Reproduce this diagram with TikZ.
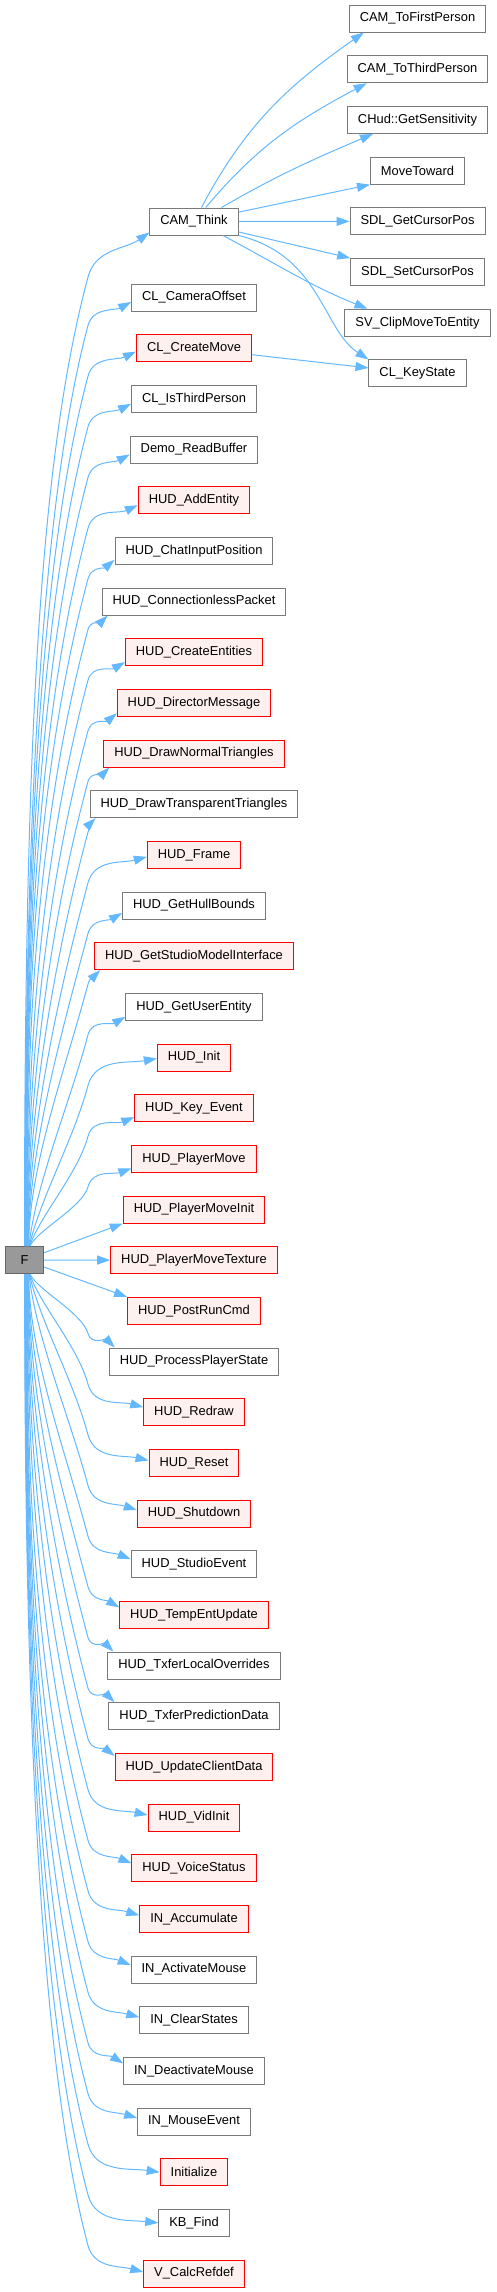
\documentclass[tikz,border=0pt]{standalone}
\usepackage{fontspec}
\setmainfont{Liberation Sans}
\usetikzlibrary{arrows.meta}
\definecolor{edgeblue}{HTML}{63B8FF}
\definecolor{boxgray}{HTML}{7A7A7A}
\definecolor{fgray}{HTML}{999999}
\definecolor{fborder}{HTML}{666666}
\definecolor{redfill}{HTML}{FFF0F0}
\tikzset{
  fn/.style={draw=boxgray,fill=white,line width=1pt,minimum height=27pt,
    inner xsep=10.5pt,inner ysep=0pt,font=\fontsize{12.9}{15}\selectfont},
  nplain/.style={},
  ntrunc/.style={draw=red,fill=redfill},
  edge/.style={draw=edgeblue,line width=1pt,-{Triangle[length=13pt,width=9pt]}}
}
\begin{document}
\begin{tikzpicture}[x=1pt,y=1pt]
\useasboundingbox (0,0) rectangle (496,-2292);
\node[fn,fill=fgray,draw=fborder,minimum width=38pt] (F) at (24.5,-1260) {F};
\node[fn,nplain] (think) at (194,-221.5) {CAM\_Think};
% functions called by CAM_Think
\foreach \nm/\lbl [count=\j from 0] in {tofirst/CAM\_ToFirstPerson,tothird/CAM\_ToThirdPerson,
  getsens/CHud::GetSensitivity,movetow/MoveToward,getcur/SDL\_GetCursorPos,
  setcur/SDL\_SetCursorPos,clipmove/SV\_ClipMoveToEntity,keystate/CL\_KeyState}
  \node[fn,nplain] (\nm) at (417.5,-18.5-\j*50.71) {\lbl};
% functions called by F
\foreach \lbl/\kind/\off/\bt [count=\i] in {
  CL\_CameraOffset/nplain/4.5/28, CL\_CreateMove/ntrunc/3.5/25,
  CL\_IsThirdPerson/nplain/5/27, Demo\_ReadBuffer/nplain/5/28,
  HUD\_AddEntity/ntrunc/5/25, HUD\_ChatInputPosition/nplain/9/40,
  HUD\_ConnectionlessPacket/nplain/-1/45, HUD\_CreateEntities/ntrunc/10/30,
  HUD\_DirectorMessage/ntrunc/10.5/40, HUD\_DrawNormalTriangles/ntrunc/-1/45,
  HUD\_DrawTransparentTriangles/nplain/-1/45, HUD\_Frame/ntrunc/2/15,
  HUD\_GetHullBounds/nplain/7.5/30, HUD\_GetStudioModelInterface/ntrunc/-1/45,
  HUD\_GetUserEntity/nplain/10/30, HUD\_Init/ntrunc/1/10,
  HUD\_Key\_Event/ntrunc/9/22, HUD\_PlayerMove/ntrunc/9.5/20,
  HUD\_PlayerMoveInit/ntrunc/0/0, HUD\_PlayerMoveTexture/ntrunc/0/0,
  HUD\_PostRunCmd/ntrunc/0/0, HUD\_ProcessPlayerState/nplain/-1/45,
  HUD\_Redraw/ntrunc/5/15, HUD\_Reset/ntrunc/2.5/12,
  HUD\_Shutdown/ntrunc/3.5/18, HUD\_StudioEvent/nplain/5/22,
  HUD\_TempEntUpdate/ntrunc/7.5/30, HUD\_TxferLocalOverrides/nplain/-1/45,
  HUD\_TxferPredictionData/nplain/-1/45, HUD\_UpdateClientData/ntrunc/11/38,
  HUD\_VidInit/ntrunc/2.5/12, HUD\_VoiceStatus/ntrunc/5/22,
  IN\_Accumulate/ntrunc/3.5/17, IN\_ActivateMouse/nplain/4.5/22,
  IN\_ClearStates/nplain/3/15, IN\_DeactivateMouse/nplain/7.5/32,
  IN\_MouseEvent/nplain/3.5/17, Initialize/ntrunc/0/8,
  KB\_Find/nplain/0/6, V\_CalcRefdef/ntrunc/1.5/15}{
  \pgfmathsetmacro\yT{297.5+(\i-1)*50.667}
  \node[fn,\kind] (n\i) at (194,-\yT) {\lbl};
  \ifnum\i=20
    \draw[edge] (F) -- (n\i);
  \else\ifnum\i=19
    \draw[edge] (F) -- (n\i.south west);
  \else\ifnum\i=21
    \draw[edge] (F) -- (n\i.north west);
  \else
    \pgfmathsetmacro\sg{\i<20 ? 1 : -1}
    \pgfmathsetmacro\dist{abs(\yT-1260)}
    \pgfmathsetmacro\ao{\sg*(90-max(0,300-\dist)*0.13)}
    \pgfmathsetmacro\sx{6*(1-\dist/1040)}
    \pgfmathsetmacro\ky{\yT+28*\sg}
    \pgfmathsetmacro\len{abs(1260-13.5*\sg-\ky)}
    \pgfmathsetmacro\od{0.3*\len}
    \pgfmathsetmacro\id{min(0.35*\len,224)}
    \pgfmathsetmacro\ai{-105*\sg}
    \pgfmathsetmacro\bo{75*\sg}
    \pgfmathsetmacro\bi{180+\sg*\bt}
    \ifdim\off pt<0pt
      \ifnum\i<20 \def\ean{south west}\else\def\ean{north west}\fi
      \def\exx{6}\def\ey{0}
    \else
      \def\ean{west}\def\exx{0}
      \pgfmathsetmacro\ey{-\sg*\off}
    \fi
    \ifnum\i<20 \def\fa{north}\else\def\fa{south}\fi
    \draw[edge] ([xshift=\sx pt]F.\fa) to[out=\ao,in=\ai,out distance=\od pt,in distance=\id pt] (88,-\ky)
      to[out=\bo,in=\bi] ([xshift=\exx pt,yshift=\ey pt]n\i.\ean);
  \fi\fi\fi
}
\draw[edge] (F.north) to[out=90,in=255,out distance=485pt,in distance=194pt] (88,-277)
  to[out=75,in=215] ([yshift=-11pt]think.west);
% edges out of CAM_Think
\draw[edge] (think) to[out=62,in=215] ([xshift=15pt]tofirst.south west);
\draw[edge] (think) to[out=50,in=208] ([xshift=20pt]tothird.south west);
\draw[edge] (think.27) to[out=30,in=203] ([xshift=26pt]getsens.south west);
\draw[edge] (think) -- (movetow.south west);
\draw[edge] (think) -- (getcur);
\draw[edge] (think) -- (setcur.north west);
\draw[edge] ([xshift=29pt]think.south) to[out=-28,in=158] ([xshift=23pt]clipmove.north west);
\draw[edge] (think.south east) .. controls +(82,-20) and +(-46,30) .. (keystate.north west);
\draw[edge] (n2) -- (keystate);
\end{tikzpicture}
\end{document}
